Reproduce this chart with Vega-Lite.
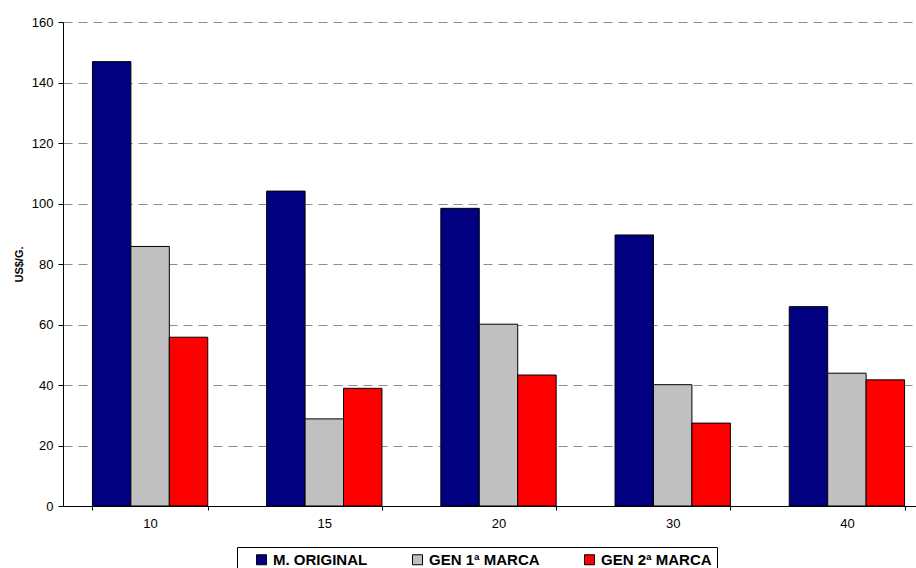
{
  "$schema": "https://vega.github.io/schema/vega-lite/v6.json",
  "width": 853,
  "height": 484,
  "autosize": {"type": "none"},
  "padding": {"left": 63, "top": 22, "right": 0, "bottom": 62},
  "background": "white",
  "config": {
    "view": {"stroke": null},
    "font": "Liberation Sans"
  },
  "data": {
    "values": [
      {"dose": "10", "series": "M. ORIGINAL", "price": 146.9},
      {"dose": "10", "series": "GEN 1ª MARCA", "price": 85.8},
      {"dose": "10", "series": "GEN 2ª MARCA", "price": 55.8},
      {"dose": "15", "series": "M. ORIGINAL", "price": 104.1},
      {"dose": "15", "series": "GEN 1ª MARCA", "price": 28.8},
      {"dose": "15", "series": "GEN 2ª MARCA", "price": 38.9},
      {"dose": "20", "series": "M. ORIGINAL", "price": 98.4},
      {"dose": "20", "series": "GEN 1ª MARCA", "price": 60.1},
      {"dose": "20", "series": "GEN 2ª MARCA", "price": 43.3},
      {"dose": "30", "series": "M. ORIGINAL", "price": 89.6},
      {"dose": "30", "series": "GEN 1ª MARCA", "price": 40.1},
      {"dose": "30", "series": "GEN 2ª MARCA", "price": 27.4},
      {"dose": "40", "series": "M. ORIGINAL", "price": 65.9},
      {"dose": "40", "series": "GEN 1ª MARCA", "price": 43.9},
      {"dose": "40", "series": "GEN 2ª MARCA", "price": 41.7}
    ]
  },
  "mark": {"type": "bar", "stroke": "black", "strokeWidth": 1},
  "encoding": {
    "x": {
      "field": "dose",
      "type": "nominal",
      "sort": null,
      "scale": {"range": [0, 871], "paddingInner": 0.338, "paddingOuter": 0.169},
      "axis": {
        "title": null,
        "labelAngle": 0,
        "domainColor": "black",
        "tickColor": "black",
        "tickSize": 4,
        "tickBand": "extent",
        "labelFontSize": 13,
        "labelColor": "black",
        "labelPadding": 7,
        "grid": false
      }
    },
    "xOffset": {
      "field": "series",
      "type": "nominal",
      "scale": {"domain": ["M. ORIGINAL", "GEN 1ª MARCA", "GEN 2ª MARCA"], "paddingInner": 0, "paddingOuter": 0}
    },
    "y": {
      "field": "price",
      "type": "quantitative",
      "scale": {"domain": [0, 160], "nice": false},
      "axis": {
        "title": "US$/G.",
        "values": [0, 20, 40, 60, 80, 100, 120, 140, 160],
        "domainColor": "black",
        "tickColor": "black",
        "tickSize": 5,
        "labelFontSize": 13,
        "labelPadding": 5,
        "labelColor": "black",
        "gridColor": "#8c8c8c",
        "gridDash": [9, 6],
        "gridWidth": 1,
        "titleFontSize": 11,
        "titleFontWeight": "bold",
        "titleColor": "black",
        "titleX": -44,
        "titleY": 242,
        "titleAngle": 270,
        "titleAlign": "center",
        "titleBaseline": "middle"
      }
    },
    "color": {
      "field": "series",
      "type": "nominal",
      "scale": {
        "domain": ["M. ORIGINAL", "GEN 1ª MARCA", "GEN 2ª MARCA"],
        "range": ["#000080", "#C0C0C0", "#FF0000"]
      },
      "legend": {
        "title": null,
        "orient": "none",
        "legendX": 174,
        "legendY": 525,
        "direction": "horizontal",
        "symbolType": "square",
        "symbolSize": 100,
        "symbolStrokeColor": "black",
        "symbolStrokeWidth": 1,
        "symbolOpacity": 1,
        "labelFontSize": 15,
        "labelFontWeight": "bold",
        "labelColor": "black",
        "labelOffset": 4,
        "labelLimit": 300,
        "columnPadding": 30,
        "symbolOffset": 12,
        "padding": 5,
        "strokeColor": "black",
        "fillColor": "white"
      }
    }
  }
}
